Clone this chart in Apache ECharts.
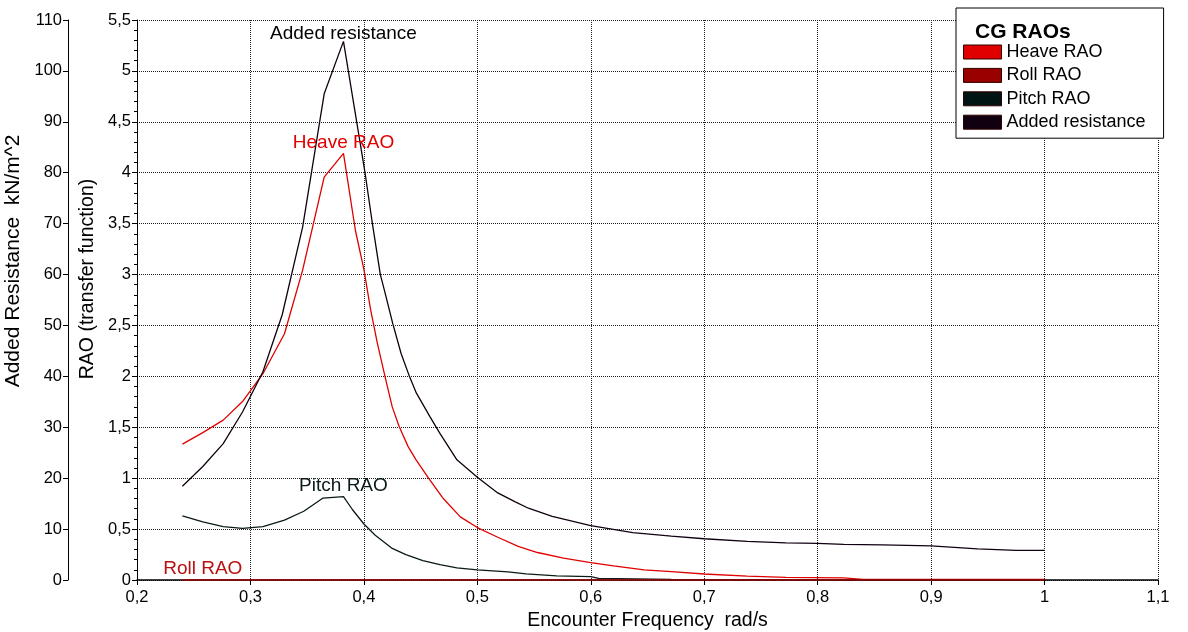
<!DOCTYPE html>
<html>
<head>
<meta charset="utf-8">
<script src="https://cdn.jsdelivr.net/npm/echarts@6/dist/echarts.min.js"></script>
<style>
html,body{margin:0;padding:0;background:#fff;}
#chart{width:1188px;height:632px;}
</style>
</head>
<body>
<div id="chart"></div>
<script>
// ---- data ----
var addedResistance = [
  [0.240,18.4],[0.258,22.3],[0.276,26.8],[0.293,33.0],[0.311,40.9],[0.328,52.1],
  [0.346,69.3],[0.365,95.5],[0.382,105.8],[0.401,80.0],[0.4075,70.0],[0.4145,60.0],
  [0.418,57.0],[0.4254,50.4],[0.4328,44.5],[0.4403,39.9],[0.4463,36.7],[0.4582,32.1],
  [0.467,28.8],[0.482,23.6],[0.500,20.2],[0.518,17.1],[0.533,15.4],[0.545,14.1],
  [0.566,12.5],[0.600,10.7],[0.637,9.3],[0.671,8.6],[0.700,8.1],[0.738,7.6],
  [0.772,7.3],[0.800,7.2],[0.823,7.0],[0.857,6.9],[0.900,6.7],[0.941,6.1],
  [0.975,5.8],[1.000,5.8]
];
var heaveRAO = [
  [0.240,1.335],[0.258,1.447],[0.276,1.570],[0.293,1.753],[0.311,2.026],[0.330,2.419],
  [0.346,3.044],[0.365,3.956],[0.382,4.190],[0.3925,3.435],[0.400,3.05],[0.406,2.65],
  [0.412,2.32],[0.419,1.98],[0.425,1.70],[0.431,1.51],[0.439,1.31],[0.446,1.18],
  [0.457,1.00],[0.470,0.80],[0.485,0.62],[0.500,0.515],[0.518,0.42],[0.536,0.33],
  [0.553,0.27],[0.576,0.214],[0.600,0.171],[0.620,0.138],[0.647,0.099],[0.671,0.082],
  [0.700,0.059],[0.738,0.039],[0.772,0.026],[0.823,0.020],[0.840,0.007],[0.900,0.007],
  [1.000,0.007]
];
var pitchRAO = [
  [0.240,0.63],[0.258,0.57],[0.276,0.525],[0.293,0.507],[0.311,0.525],[0.330,0.588],
  [0.347,0.675],[0.364,0.805],[0.382,0.819],[0.390,0.69],[0.400,0.55],[0.410,0.44],
  [0.425,0.31],[0.437,0.25],[0.452,0.19],[0.467,0.15],[0.482,0.12],[0.500,0.10],
  [0.527,0.08],[0.543,0.06],[0.570,0.04],[0.600,0.033],[0.607,0.016],[0.671,0.007],
  [0.823,0.0],[1.000,0.0]
];
var rollRAO = [
  [0.240,0],[0.258,0],[0.400,0],[0.600,0],[0.800,0],[1.000,0]
];
var seriesNames = ['Heave RAO','Roll RAO','Pitch RAO','Added resistance'];
var legendTitle = 'CG RAOs';
var xAxisName = 'Encounter Frequency  rad/s';
var raoAxisName = 'RAO (transfer function)';
var arAxisName = 'Added Resistance  kN/m^2';

// ---- chart ----
var FONT = 'Liberation Sans, Arial, sans-serif';
function comma(v){ return String(Math.round(v*100)/100).replace('.', ','); }
function peakLabel(point, text, color, distance){
  return {
    symbol:'circle', symbolSize:0, silent:true,
    label:{ show:true, position:'top', distance:distance, formatter:text,
      color:color, fontSize:19, fontFamily:FONT },
    data:[{ coord: point }]
  };
}
var chart = echarts.init(document.getElementById('chart'), null, {renderer:'canvas'});
var axisLabelStyle = {color:'#000', fontSize:16.5, fontFamily:FONT};
chart.setOption({
  animation:false,
  backgroundColor:'#fff',
  title:{ text: legendTitle, left: 970, top: 17,
    textStyle:{fontSize:21, fontWeight:'bold', color:'#000', fontFamily:FONT} },
  legend:{
    data: seriesNames, orient:'vertical', left:956, top:8,
    padding:[35,18,7,7], itemWidth:38, itemHeight:14, itemGap:5.4, icon:'rect',
    backgroundColor:'#fff', borderColor:'#000', borderWidth:1, borderRadius:0,
    itemStyle:{borderColor:'#300', borderWidth:1},
    textStyle:{fontSize:18, lineHeight:14, color:'#000', fontFamily:FONT}
  },
  grid:{ left:137, right:30, top:20, bottom:52, containLabel:false, outerBoundsMode:'none' },
  xAxis:{
    type:'value', min:0.2, max:1.1, interval:0.1,
    name:xAxisName, nameLocation:'middle', nameGap:25,
    nameTextStyle:{fontSize:19.5, color:'#000', fontFamily:FONT, verticalAlign:'top'},
    axisLine:{show:true, lineStyle:{color:'#000', width:1.5}},
    axisTick:{show:true, length:5, lineStyle:{color:'#000'}},
    axisLabel:Object.assign({formatter:comma, margin:9}, axisLabelStyle),
    splitLine:{show:true, lineStyle:{type:'dotted', color:'#222', width:1}}
  },
  yAxis:[
    { type:'value', min:0, max:110, interval:10, position:'left', offset:69,
      name:arAxisName, nameLocation:'middle', nameGap:30,
      nameTextStyle:{fontSize:21, color:'#000', fontFamily:FONT, padding:[0,0,0,78]},
      axisLine:{show:true, lineStyle:{color:'#000', width:1}},
      axisTick:{show:true, length:5, lineStyle:{color:'#000'}},
      axisLabel:Object.assign({margin:6}, axisLabelStyle),
      splitLine:{show:false} },
    { type:'value', min:0, max:5.5, interval:0.5, position:'left', offset:0,
      name:raoAxisName, nameLocation:'middle', nameGap:34,
      nameTextStyle:{fontSize:19.5, color:'#000', fontFamily:FONT, padding:[0,0,0,42]},
      axisLine:{show:true, lineStyle:{color:'#000', width:1}},
      axisTick:{show:true, length:5, lineStyle:{color:'#000'}},
      minorTick:{show:true, splitNumber:5, length:3, lineStyle:{color:'#000'}},
      axisLabel:Object.assign({formatter:comma, margin:6}, axisLabelStyle),
      splitLine:{show:true, lineStyle:{type:'dotted', color:'#222', width:1}} }
  ],
  series:[
    { name:seriesNames[0], type:'line', yAxisIndex:1, symbol:'none',
      color:'#e00000', lineStyle:{width:1.3, color:'#e00000'},
      data: heaveRAO, z:3,
      markPoint: peakLabel(heaveRAO[8], 'Heave RAO', '#e00000', 1) },
    { name:seriesNames[1], type:'line', yAxisIndex:1, symbol:'none',
      color:'#990000', lineStyle:{width:1.5, color:'#b00000'},
      data: rollRAO, z:4,
      markPoint: peakLabel(rollRAO[1], 'Roll RAO', '#b81010', 2) },
    { name:seriesNames[2], type:'line', yAxisIndex:1, symbol:'none',
      color:'#001414', lineStyle:{width:1.3, color:'#0a1a1a'},
      data: pitchRAO, z:3,
      markPoint: peakLabel(pitchRAO[8], 'Pitch RAO', '#0a1a1a', 1) },
    { name:seriesNames[3], type:'line', yAxisIndex:0, symbol:'none',
      color:'#100010', lineStyle:{width:1.3, color:'#100010'},
      data: addedResistance, z:3,
      markPoint: peakLabel(addedResistance[8], 'Added resistance', '#000', -2) }
  ]
});
</script>
</body>
</html>
